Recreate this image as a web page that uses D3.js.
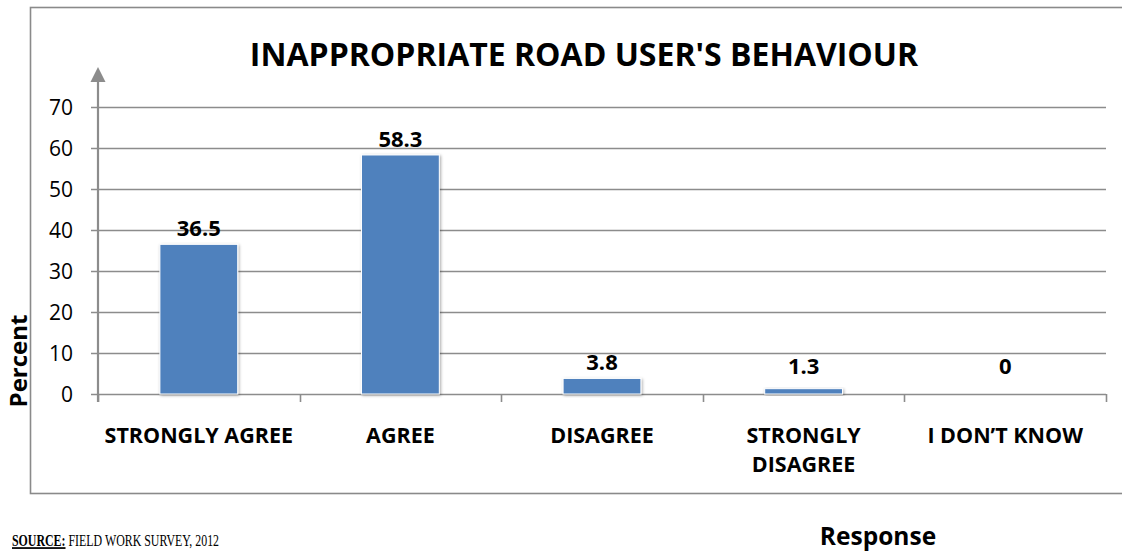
<!DOCTYPE html>
<html>
<head>
<meta charset="utf-8">
<script src="https://cdn.jsdelivr.net/npm/d3@7"></script>
<style>
  html, body { margin: 0; padding: 0; background: #fff; }
  svg { display: block; }
  .lbl { font-family: "Open Sans", "Noto Sans", sans-serif; font-weight: 700; fill: #000; }
</style>
</head>
<body>
<svg id="chart" width="1122" height="553"></svg>
<script>
// Survey responses (percent)
const categories = [["STRONGLY AGREE"], ["AGREE"], ["DISAGREE"], ["STRONGLY", "DISAGREE"], ["I DON\u2019T KNOW"]];
const values = [36.5, 58.3, 3.8, 1.3, 0];
const yTicks = [0, 10, 20, 30, 40, 50, 60, 70];
const titleText = "INAPPROPRIATE ROAD USER'S BEHAVIOUR";

const svg = d3.select("#chart");

const defs = svg.append("defs");
const shadow = defs.append("filter").attr("id", "barShadow")
  .attr("x", "-20%").attr("y", "-20%").attr("width", "140%").attr("height", "140%");
shadow.append("feDropShadow").attr("dx", 1).attr("dy", 1).attr("stdDeviation", 1.6)
  .attr("flood-color", "#000").attr("flood-opacity", 0.35);

// chart frame
svg.append("rect")
  .attr("x", 30.5).attr("y", 7.5).attr("width", 1120).attr("height", 486)
  .attr("fill", "#fff").attr("stroke", "#8a8a8a").attr("stroke-width", 1.6);

const plot = { left: 98, right: 1106, top: 107, bottom: 394 };

const x = d3.scaleBand()
  .domain(d3.range(values.length))
  .range([plot.left, plot.right])
  .paddingInner(0.614).paddingOuter(0.307);
const xb = d3.scaleBand().domain(d3.range(values.length)).range([plot.left, plot.right]);
const y = d3.scaleLinear().domain([0, 70]).range([plot.bottom, plot.top]);

// horizontal gridlines
svg.append("g").selectAll("line").data(yTicks).join("line")
  .attr("x1", plot.left - 7).attr("x2", plot.right)
  .attr("y1", d => Math.round(y(d)) + 0.5).attr("y2", d => Math.round(y(d)) + 0.5)
  .attr("stroke", "#8c8c8c").attr("stroke-width", 1.6);

// y tick labels
svg.append("g").selectAll("text").data(yTicks).join("text")
  .attr("x", 73).attr("y", d => y(d)).attr("dy", "0.36em")
  .attr("text-anchor", "end")
  .style("font-family", "'Open Sans', sans-serif").style("font-size", "21px").style("fill", "#000")
  .text(d => d);

// category tick marks
const edges = d3.range(values.length + 1).map(i => i < values.length ? xb(i) : xb(i - 1) + xb.bandwidth());
svg.append("g").selectAll("line").data(edges).join("line")
  .attr("x1", d => Math.round(d) + 0.5).attr("x2", d => Math.round(d) + 0.5)
  .attr("y1", plot.bottom).attr("y2", plot.bottom + 8)
  .attr("stroke", "#8c8c8c").attr("stroke-width", 1.6);

// y axis line with arrowhead
svg.append("line")
  .attr("x1", plot.left).attr("x2", plot.left)
  .attr("y1", plot.bottom + 8).attr("y2", 82)
  .attr("stroke", "#8c8c8c").attr("stroke-width", 2.2);
svg.append("path")
  .attr("d", `M${plot.left - 7.5},82 L${plot.left + 7.5},82 L${plot.left},67 Z`)
  .attr("fill", "#8c8c8c");

// bars
svg.append("g").selectAll("rect").data(values).join("rect")
  .attr("x", (d, i) => x(i)).attr("width", x.bandwidth())
  .attr("y", d => y(d)).attr("height", d => y(0) - y(d))
  .attr("fill", "#4F81BD").attr("stroke", "#fff").attr("stroke-width", 1)
  .attr("filter", "url(#barShadow)");

// value labels
svg.append("g").selectAll("text").data(values).join("text")
  .attr("class", "lbl")
  .attr("x", (d, i) => x(i) + x.bandwidth() / 2)
  .attr("y", d => Math.min(y(d) - 8, y(0) - 20))
  .attr("text-anchor", "middle").style("font-size", "22px")
  .text(d => d);

// category labels (one text element per line)
const catLines = categories.flatMap((lines, i) => lines.map((t, j) => ({ i, j, t })));
svg.append("g").selectAll("text").data(catLines).join("text")
  .attr("class", "lbl")
  .attr("x", d => xb(d.i) + xb.bandwidth() / 2)
  .attr("y", d => 443 + d.j * 29)
  .attr("text-anchor", "middle").style("font-size", "21.5px")
  .text(d => d.t);

// title
svg.append("text").attr("class", "lbl")
  .attr("x", 584).attr("y", 66).attr("text-anchor", "middle")
  .style("font-size", "32px").text(titleText);

// y axis title
svg.append("text").attr("class", "lbl")
  .attr("transform", "translate(27,361) rotate(-90)")
  .attr("text-anchor", "middle").style("font-size", "24px").text("Percent");

// x axis title
svg.append("text").attr("class", "lbl")
  .attr("x", 878).attr("y", 545).attr("text-anchor", "middle")
  .style("font-size", "24.5px").text("Response");

// source note (narrow serif setting)
const src = svg.append("text").attr("transform", "translate(12,546) scale(0.68,1)")
  .style("font-family", "'Liberation Serif', 'Times New Roman', serif").style("font-size", "17.5px").style("fill", "#000");
src.append("tspan").style("font-weight", "700").style("text-decoration", "underline").text("SOURCE:");
src.append("tspan").text(" FIELD WORK SURVEY, 2012");
</script>
</body>
</html>
